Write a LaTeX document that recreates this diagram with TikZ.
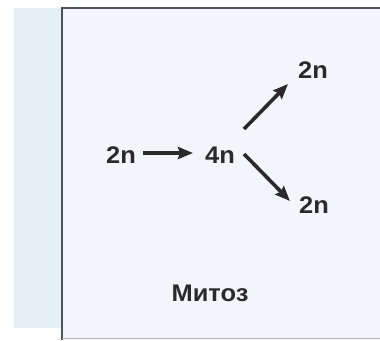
\documentclass[tikz,border=0pt]{standalone}
\usepackage{fontspec}
\newfontfamily\labfont[FakeStretch=1.06]{Liberation Sans}
\usetikzlibrary{arrows.meta}
\definecolor{stripblue}{HTML}{E4EFF6}
\definecolor{boxbg}{HTML}{F2F6FA}
\definecolor{framegray}{HTML}{4E5357}
\definecolor{inkdark}{HTML}{2A2A2A}
\tikzset{
  lab/.style={font=\labfont\bfseries\fontsize{24}{26}\selectfont, text=inkdark, inner sep=1pt},
  arr/.style={draw=inkdark, line width=3.6pt, -{Stealth[length=15pt,width=12pt,inset=2pt]}}
}
\begin{document}
\begin{tikzpicture}[x=1pt,y=-1pt]
\useasboundingbox (0,0) rectangle (380,340);
\fill[white] (0,0) rectangle (380,340);
\fill[stripblue] (14,8) rectangle (62,328);
\fill[boxbg] (62,8) rectangle (380,338);
\draw[framegray, line width=2.2pt] (62,340) -- (62,8) -- (380,8);
\draw[framegray!45, line width=1pt] (62,338.5) -- (380,338.5);
\node[lab] (a) at (121,155) {2n};
\node[lab] (b) at (220,155) {4n};
\node[lab] (c) at (313,70) {2n};
\node[lab] (d) at (314,205) {2n};
\node[lab] (m) at (210,293) {Митоз};
\coordinate (as) at (143,153);
\coordinate (ae) at (193,153);
\coordinate (bu) at (244,129);
\coordinate (ce) at (288,84);
\coordinate (bd) at (244,154);
\coordinate (de) at (290,201);
\draw[arr] (as) -- (ae);
\draw[arr] (bu) -- (ce);
\draw[arr] (bd) -- (de);
\end{tikzpicture}
\end{document}
